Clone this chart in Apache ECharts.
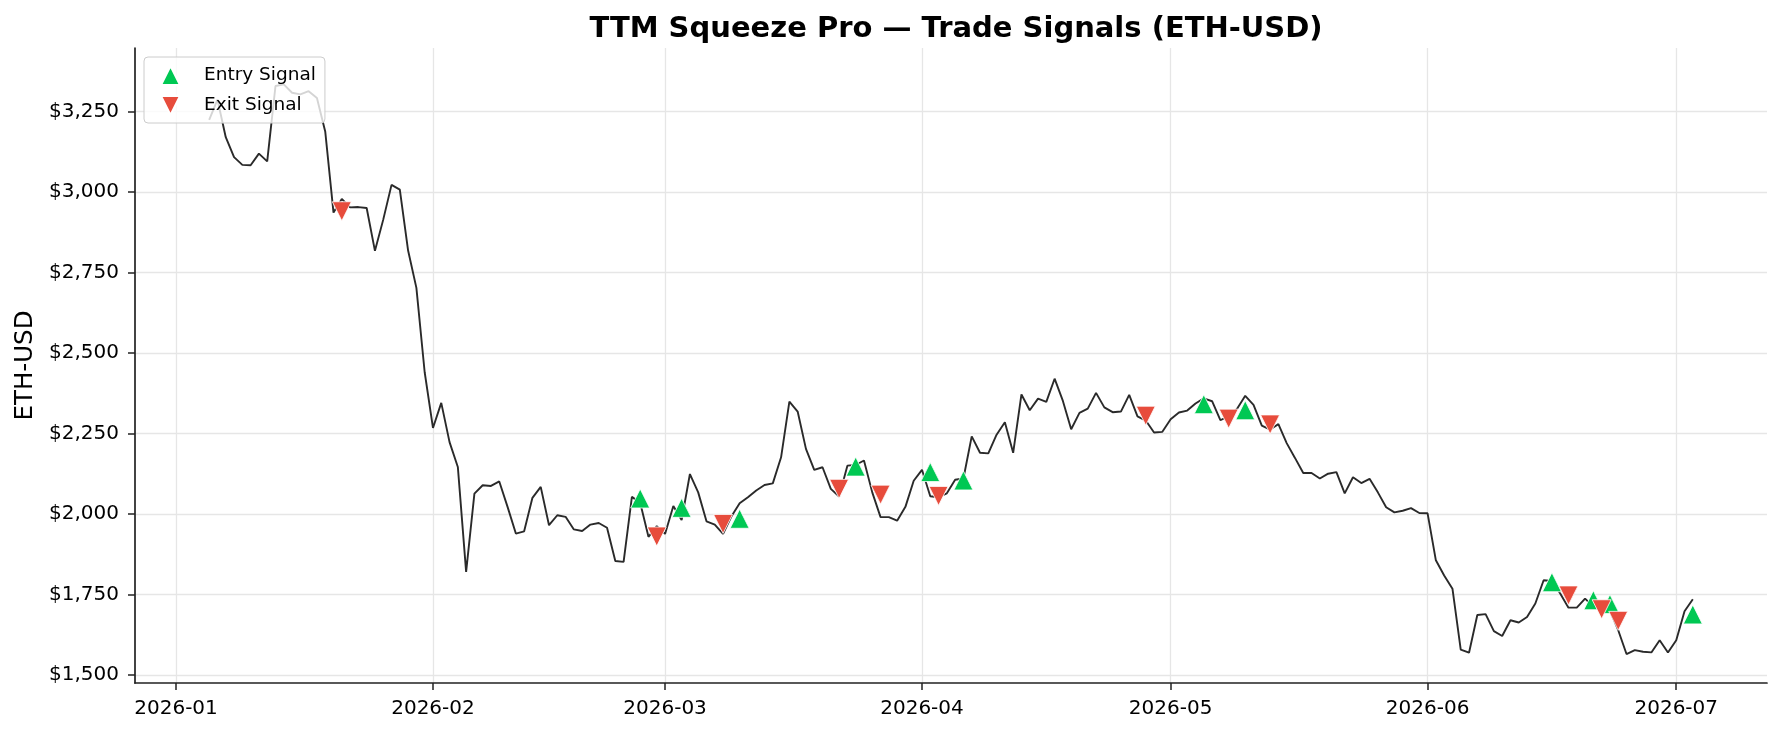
<!DOCTYPE html>
<html>
<head>
<meta charset="utf-8">
<title>TTM Squeeze Pro - Trade Signals</title>
<script src="https://cdn.jsdelivr.net/npm/echarts@6/dist/echarts.min.js"></script>
<style>
  html, body { margin: 0; padding: 0; background: #fff; }
  #chart { width: 1782px; height: 733px; }
</style>
</head>
<body>
<div id="chart"></div>
<script>
// daily closes, first point is 2026-01-05
var firstDay = '2026-01-05';
var janPrices = [3224, 3287, 3170, 3108, 3084, 3083, 3119, 3095, 3329, 3334, 3308, 3303, 3313, 3292,
                 3188, 2936, 2978, 2952, 2953, 2950, 2817, 2914, 3022, 3007, 2818, 2702, 2440];
var febPrices = [2267, 2345, 2223, 2146, 1820, 2063, 2089, 2087, 2101, 2022, 1939, 1946, 2050, 2084,
                 1965, 1996, 1991, 1952, 1947, 1967, 1972, 1957, 1854, 1851, 2053, 2035, 1929, 1962];
var marPrices = [1938, 2025, 1981, 2124, 2067, 1977, 1967, 1938, 1992, 2033, 2052, 2073, 2090, 2095,
                 2176, 2349, 2318, 2202, 2137, 2145, 2078, 2054, 2150, 2152, 2166, 2067, 1990, 1990,
                 1979, 2022, 2103];
var aprPrices = [2137, 2055, 2052, 2064, 2106, 2110, 2241, 2190, 2188, 2246, 2285, 2190, 2371, 2322,
                 2358, 2348, 2420, 2351, 2263, 2314, 2327, 2376, 2331, 2316, 2318, 2370, 2303, 2290,
                 2253, 2255];
var mayPrices = [2294, 2315, 2321, 2343, 2359, 2350, 2291, 2304, 2326, 2367, 2339, 2274, 2262, 2279,
                 2220, 2174, 2127, 2127, 2110, 2125, 2130, 2064, 2114, 2096, 2109, 2067, 2021, 2005,
                 2010, 2018, 2003];
var junPrices = [2002, 1856, 1809, 1768, 1579, 1569, 1686, 1689, 1636, 1621, 1670, 1663, 1680, 1722,
                 1794, 1792, 1753, 1709, 1709, 1737, 1712, 1718, 1700, 1639, 1565, 1577, 1572, 1570,
                 1608, 1570];
var julPrices = [1608, 1698, 1735];

var entryDates  = ['2026-02-26', '2026-03-03', '2026-03-10', '2026-03-24', '2026-04-02', '2026-04-06',
                   '2026-05-05', '2026-05-10', '2026-06-16', '2026-06-21', '2026-06-23', '2026-07-03'];
var entryPrices = [2048, 2019, 1985, 2147, 2130, 2104, 2341, 2322, 1788, 1732, 1720, 1688];
var exitDates   = ['2026-01-21', '2026-02-28', '2026-03-08', '2026-03-22', '2026-03-27', '2026-04-03',
                   '2026-04-28', '2026-05-08', '2026-05-13', '2026-06-18', '2026-06-22', '2026-06-24'];
var exitPrices  = [2940, 1930, 1969, 2078, 2060, 2056, 2305, 2296, 2278, 1747, 1704, 1668];

var monthTicks = ['2026-01-01', '2026-02-01', '2026-03-01', '2026-04-01', '2026-05-01', '2026-06-01', '2026-07-01'];
var priceTicks = [1500, 1750, 2000, 2250, 2500, 2750, 3000, 3250];

var DAY = 86400000;
var allPrices = janPrices.concat(febPrices, marPrices, aprPrices, mayPrices, junPrices, julPrices);
var t0 = Date.parse(firstDay);
var lineData = allPrices.map(function (p, i) { return [t0 + i * DAY, p]; });
var entryData = entryDates.map(function (d, i) { return [Date.parse(d), entryPrices[i]]; });
var exitData = exitDates.map(function (d, i) { return [Date.parse(d), exitPrices[i]]; });
var tLast = t0 + (allPrices.length - 1) * DAY;
var pad = (tLast - t0) * 0.05;
var xTicks = monthTicks.map(function (d) { return Date.parse(d); });

var font = 'DejaVu Sans';
var chart = echarts.init(document.getElementById('chart'), null, {renderer: 'canvas'});

chart.setOption({
    animation: false,
    backgroundColor: '#fff',
    title: {
        text: 'TTM Squeeze Pro \u2014 Trade Signals (ETH-USD)',
        left: 951,
        textAlign: 'center',
        top: 10,
        textStyle: {fontFamily: font, fontSize: 29, fontWeight: 'bold', color: '#000'}
    },
    legend: {
        left: 144,
        top: 57,
        orient: 'vertical',
        padding: [8, 9, 7, 16],
        itemGap: 9,
        itemWidth: 19,
        itemHeight: 19,
        backgroundColor: 'rgba(255,255,255,0.8)',
        borderColor: '#cccccc',
        borderWidth: 1,
        borderRadius: 4,
        textStyle: {fontFamily: font, fontSize: 18.5, color: '#000', padding: [0, 0, 0, 19]},
        data: ['Entry Signal', 'Exit Signal']
    },
    grid: {left: 135, right: 15, top: 48, bottom: 50},
    xAxis: {
        type: 'value',
        min: t0 - pad,
        max: tLast + pad,
        axisLine: {show: true, lineStyle: {color: '#222', width: 1.7}},
        axisTick: {show: true, customValues: xTicks, length: 7, lineStyle: {color: '#222', width: 1.5}},
        axisLabel: {
            customValues: xTicks,
            margin: 16,
            fontFamily: font, fontSize: 20, color: '#000',
            formatter: function (v) {
                var d = new Date(v);
                return d.getUTCFullYear() + '-' + String(d.getUTCMonth() + 1).padStart(2, '0');
            }
        },
        splitLine: {show: true, lineStyle: {color: '#e6e6e6', width: 1.3}}
    },
    yAxis: {
        type: 'value',
        min: 1475,
        max: 3447,
        name: 'ETH-USD',
        nameLocation: 'middle',
        nameGap: 93,
        nameTextStyle: {fontFamily: font, fontSize: 24.5, color: '#000'},
        axisLine: {show: true, lineStyle: {color: '#222', width: 1.7}},
        axisTick: {show: true, customValues: priceTicks, length: 7, lineStyle: {color: '#222', width: 1.5}},
        axisLabel: {
            customValues: priceTicks,
            margin: 16,
            fontFamily: font, fontSize: 20, color: '#000',
            formatter: function (v) { return '$' + v.toLocaleString('en-US'); }
        },
        splitLine: {show: true, lineStyle: {color: '#e6e6e6', width: 1.3}}
    },
    series: [
        {
            name: 'ETH-USD',
            type: 'line',
            data: lineData,
            showSymbol: false,
            lineStyle: {color: '#2a2a2a', width: 1.9},
            z: 2
        },
        {
            name: 'Entry Signal',
            type: 'scatter',
            data: entryData,
            symbol: 'triangle',
            symbolSize: 19,
            itemStyle: {color: '#00c853', borderColor: '#fff', borderWidth: 0.8, opacity: 1},
            z: 3
        },
        {
            name: 'Exit Signal',
            type: 'scatter',
            data: exitData,
            symbol: 'path://M0,0L2,0L1,2Z',
            symbolSize: 19,
            itemStyle: {color: '#e74c3c', borderColor: '#fff', borderWidth: 0.8, opacity: 1},
            z: 3
        }
    ]
});
</script>
</body>
</html>
